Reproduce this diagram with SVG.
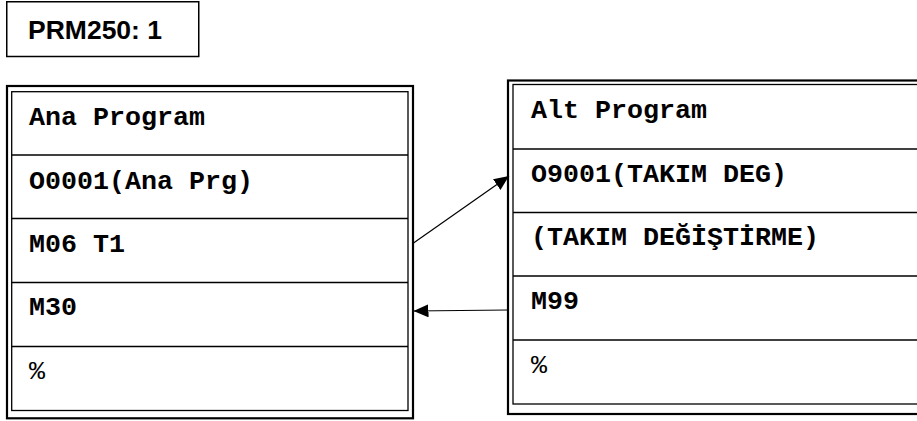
<svg xmlns="http://www.w3.org/2000/svg" width="917" height="421" viewBox="0 0 917 421">
<style>
.outer{fill:none;stroke:#000;stroke-width:2.2}
.inner{fill:none;stroke:#000;stroke-width:1.3}
.div{stroke:#000;stroke-width:1.3}
.t{font-family:"Liberation Mono","Courier New",monospace;font-weight:bold;font-size:26.67px;fill:#000}
.p{font-family:"Liberation Mono","Courier New",monospace;font-weight:normal;font-size:26.67px;fill:#000}
.title{font-family:"Liberation Sans",Arial,sans-serif;font-weight:bold;font-size:26.5px;fill:#000}
.conn{stroke:#000;stroke-width:1.2;fill:none}
</style>
<defs>
<marker id="ah" viewBox="0 0 15 13" refX="15" refY="6.5" markerWidth="15" markerHeight="13" markerUnits="userSpaceOnUse" orient="auto">
<path d="M0,0 L15,6.5 L0,13 Z" fill="#000"/>
</marker>
</defs>
<rect width="917" height="421" fill="#fff"/>
<g id="title">
<rect x="6.75" y="1.75" width="192" height="54.75" fill="none" stroke="#000" stroke-width="1.5"/>
<text class="title" x="28" y="39">PRM250: 1</text>
</g>
<g id="ana-program">
<rect class="outer" x="7" y="86" width="406" height="332.3"/>
<rect class="inner" x="11.7" y="91.7" width="396.3" height="318.8"/>
<line class="div" x1="11.7" y1="155" x2="408" y2="155"/>
<line class="div" x1="11.7" y1="218.5" x2="408" y2="218.5"/>
<line class="div" x1="11.7" y1="282.5" x2="408" y2="282.5"/>
<line class="div" x1="11.7" y1="346.5" x2="408" y2="346.5"/>
<text class="t" x="29" y="125">Ana Program</text>
<text class="t" x="29" y="189">O0001(Ana Prg)</text>
<text class="t" x="29" y="252">M06 T1</text>
<text class="t" x="29" y="315">M30</text>
<text class="p" x="29" y="379">%</text>
</g>
<g id="alt-program">
<rect class="outer" x="508" y="80.5" width="430" height="333.5" stroke-width="2.5"/>
<rect class="inner" x="513" y="84.5" width="420" height="319.5"/>
<line class="div" x1="513" y1="149" x2="917" y2="149"/>
<line class="div" x1="513" y1="212.5" x2="917" y2="212.5"/>
<line class="div" x1="513" y1="276" x2="917" y2="276"/>
<line class="div" x1="513" y1="340" x2="917" y2="340"/>
<text class="t" x="531" y="117.5">Alt Program</text>
<text class="t" x="531" y="181.5">O9001(TAKIM DEG)</text>
<text class="t" x="531" y="245">(TAKIM DEĞİŞTİRME)</text>
<text class="t" x="531" y="309">M99</text>
<text class="p" x="531" y="372.5">%</text>
</g>
<g id="connectors">
<line class="conn" x1="413.5" y1="243" x2="509" y2="176" marker-end="url(#ah)"/>
<line class="conn" x1="508" y1="310" x2="413.5" y2="311" marker-end="url(#ah)"/>
</g>
</svg>
